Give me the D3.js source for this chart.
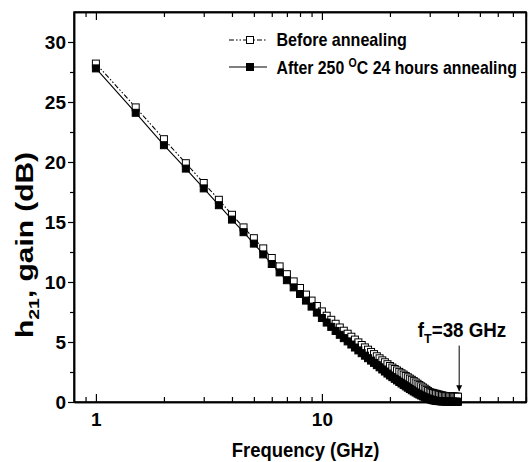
<!DOCTYPE html>
<html><head><meta charset="utf-8">
<script src="https://cdn.jsdelivr.net/npm/d3@7"></script>
<style>
html,body{margin:0;padding:0;background:#fff;}
svg{display:block;}
text{font-family:"Liberation Sans",Arial,sans-serif;font-weight:bold;fill:#000;}
</style></head>
<body>
<script>
// ---- data ----
const freqGHz = [1,1.5,2,2.5,3,3.5,4,4.5,5,5.5,6,6.5,7,7.5,8,8.5,9,9.5,10,
  10.5,11,11.5,12,12.5,13,13.5,14,14.5,15,15.5,16,16.5,17,17.5,18,18.5,19,19.5,20,
  20.5,21,21.5,22,22.5,23,23.5,24,24.5,25,25.5,26,26.5,27,27.5,28,28.5,29,29.5,30,
  30.5,31,31.5,32,32.5,33,33.5,34,34.5,35,35.5,36,36.5,37,37.5,38,38.5,39,39.5,40];
const gainBefore = [28.2,24.55,21.9,19.9,18.25,16.85,15.6,14.55,13.65,12.8,12.0,11.3,10.65,10.05,9.5,8.95,8.45,8.0,7.55,
  7.19,6.85,6.52,6.21,5.94,5.69,5.44,5.20,4.97,4.75,4.55,4.36,4.17,3.99,3.81,3.64,3.47,3.31,3.15,3.00,
  2.87,2.75,2.63,2.51,2.39,2.28,2.17,2.06,1.95,1.85,1.74,1.63,1.52,1.41,1.31,1.21,1.11,1.01,0.91,0.82,
  0.78,0.75,0.71,0.68,0.65,0.61,0.58,0.55,0.52,0.49,0.48,0.48,0.47,0.47,0.46,0.46,0.45,0.45,0.44,0.44];
const gainAfter = [27.8,24.1,21.4,19.45,17.8,16.4,15.2,14.15,13.2,12.3,11.5,10.8,10.15,9.55,9.0,8.45,7.95,7.45,7.0,
  6.62,6.26,5.92,5.60,5.32,5.05,4.79,4.54,4.30,4.07,3.86,3.65,3.45,3.26,3.07,2.89,2.71,2.54,2.37,2.21,
  2.07,1.93,1.80,1.67,1.54,1.42,1.30,1.19,1.08,0.98,0.88,0.79,0.70,0.62,0.54,0.47,0.40,0.34,0.28,0.23,
  0.19,0.15,0.12,0.10,0.08,0.07,0.06,0.05,0.05,0.04,0.04,0.04,0.03,0.03,0.03,0.03,0.02,0.02,0.02,0.02];
const seriesNames = ["Before annealing", "After 250 ", "C 24 hours annealing"];
const yMajorTicks = [0,5,10,15,20,25,30];
const yMinorTicks = [2.5,7.5,12.5,17.5,22.5,27.5];
const xMajorTicks = [1,10];
const xMinorTicks = [0.9,2,3,4,5,6,7,8,9,20,30,40,50,60,70,80];
const xLabel = "Frequency (GHz)";
const annotation = {f: 40.5, text: "=38 GHz"};

// ---- layout ----
const W = 528, H = 462;
const m = {left:74, top:12, right:526, bottom:402};
const svg = d3.select("body").append("svg").attr("width",W).attr("height",H);

const x = d3.scaleLog().domain([0.8,80]).range([m.left,m.right]);
const y = d3.scaleLinear().domain([0,32.5]).range([m.bottom,m.top]);

function styleAxis(g, lw){
  g.selectAll("path.domain").attr("stroke","#000").attr("stroke-width",lw);
  g.selectAll(".tick line").attr("stroke","#000").attr("stroke-width",1.2);
}

// left axis
const gl = svg.append("g").attr("transform",`translate(${m.left},0)`)
  .call(d3.axisLeft(y).tickValues(yMajorTicks).tickSize(6).tickSizeOuter(0).tickPadding(2).tickFormat(d3.format("d")));
styleAxis(gl,1.5);
gl.selectAll(".tick text").attr("font-size",19).attr("font-family",null).attr("dy","0.36em");
const glm = svg.append("g").attr("transform",`translate(${m.left},0)`)
  .call(d3.axisLeft(y).tickValues(yMinorTicks).tickSize(4).tickSizeOuter(0).tickFormat(""));
styleAxis(glm,1.5);
// right axis (inward)
const gr = svg.append("g").attr("transform",`translate(${m.right},0)`)
  .call(d3.axisRight(y).tickValues(yMajorTicks.concat(yMinorTicks)).tickSize(-5).tickSizeOuter(0).tickFormat(""));
styleAxis(gr,1.5);
// bottom axis (inward)
const gb = svg.append("g").attr("transform",`translate(0,${m.bottom})`)
  .call(d3.axisBottom(x).tickValues(xMajorTicks).tickSize(-8).tickSizeOuter(0).tickPadding(11).tickFormat(d3.format("d")));
styleAxis(gb,1.5);
gb.selectAll(".tick text").attr("font-size",19).attr("font-family",null);
const gbm = svg.append("g").attr("transform",`translate(0,${m.bottom})`)
  .call(d3.axisBottom(x).tickValues(xMinorTicks).tickSize(-5).tickSizeOuter(0).tickFormat(""));
styleAxis(gbm,1.5);
// top axis (inward)
const gt = svg.append("g").attr("transform",`translate(0,${m.top})`)
  .call(d3.axisTop(x).tickValues(xMajorTicks).tickSize(-8).tickSizeOuter(0).tickFormat(""));
styleAxis(gt,1.5);
const gtm = svg.append("g").attr("transform",`translate(0,${m.top})`)
  .call(d3.axisTop(x).tickValues(xMinorTicks).tickSize(-5).tickSizeOuter(0).tickFormat(""));
styleAxis(gtm,1.5);
// frame
svg.append("rect").attr("x",m.left).attr("y",m.top).attr("width",m.right-m.left).attr("height",m.bottom-m.top)
  .attr("fill","none").attr("stroke","#000").attr("stroke-width",1.5);

// ---- series ----
const dataB = freqGHz.map((f,i)=>({f, v:gainBefore[i]}));
const dataA = freqGHz.map((f,i)=>({f, v:gainAfter[i]}));
const line = d3.line().x(d=>x(d.f)).y(d=>y(d.v));
const MS = 7;
const DASH = "5,2,1.5,2,1.5,2";

svg.append("path").datum(dataB).attr("d",line).attr("fill","none").attr("stroke","#000")
  .attr("stroke-width",1.1).attr("stroke-dasharray",DASH);
svg.append("g").selectAll("rect").data(dataB).join("rect")
  .attr("x",d=>x(d.f)-MS/2).attr("y",d=>y(d.v)-MS/2).attr("width",MS).attr("height",MS)
  .attr("fill","#fff").attr("stroke","#000").attr("stroke-width",1);
svg.append("path").datum(dataA).attr("d",line).attr("fill","none").attr("stroke","#000").attr("stroke-width",1.1);
svg.append("g").selectAll("rect").data(dataA).join("rect")
  .attr("x",d=>x(d.f)-MS/2).attr("y",d=>y(d.v)-MS/2).attr("width",MS).attr("height",MS)
  .attr("fill","#000").attr("stroke","#000").attr("stroke-width",1);

function fitText(g, target){
  const bb = g.select("text").node().getBBox();
  return target / bb.width;
}

// ---- legend ----
const lg = svg.append("g");
const legRows = [{y:40, dash:DASH, fill:"#fff"},{y:67, dash:null, fill:"#000"}];
legRows.forEach(r=>{
  lg.append("line").attr("x1",229).attr("x2",267).attr("y1",r.y).attr("y2",r.y)
    .attr("stroke","#000").attr("stroke-width",1.1).attr("stroke-dasharray",r.dash);
  lg.append("rect").attr("x",250-MS/2).attr("y",r.y-MS/2).attr("width",MS).attr("height",MS)
    .attr("fill",r.fill).attr("stroke","#000");
});
const t1g = lg.append("g");
t1g.append("text").attr("font-size",18).text(seriesNames[0]);
t1g.attr("transform",`translate(276.5,46) scale(${fitText(t1g,130.5)},1)`);
const t2g = lg.append("g");
const t2 = t2g.append("text").attr("font-size",18);
t2.append("tspan").text(seriesNames[1]);
t2.append("tspan").attr("font-size",12).attr("dy",-7).text("O");
t2.append("tspan").attr("dy",7).text(seriesNames[2]);
t2g.attr("transform",`translate(276.5,73.5) scale(${fitText(t2g,240.5)},1)`);

// ---- axis labels ----
const xl = svg.append("g");
xl.append("text").attr("font-size",20.5).attr("text-anchor","middle").text(xLabel);
xl.attr("transform",`translate(305.5,456.5) scale(${fitText(xl,147.6)},1)`);

const yl = svg.append("g");
const ylt = yl.append("text").attr("font-size",23).attr("text-anchor","middle");
ylt.append("tspan").text("h");
ylt.append("tspan").attr("font-size",15).attr("dy",6).text("21");
ylt.append("tspan").attr("dy",-6).text(", gain (dB)");
yl.attr("transform",`translate(33,245) rotate(-90) scale(${fitText(yl,186)},1)`);

// ---- annotation ----
const ag = svg.append("g");
const at = ag.append("text").attr("font-size",19.5).attr("text-anchor","middle");
at.append("tspan").text("f");
at.append("tspan").attr("font-size",13).attr("dy",6).text("T");
at.append("tspan").attr("dy",-6).text(annotation.text);
ag.attr("transform",`translate(462,337) scale(${fitText(ag,88.7)},1)`);
svg.append("defs").append("marker").attr("id","ah").attr("viewBox","0 0 10 10")
  .attr("refX",10).attr("refY",5).attr("markerWidth",6).attr("markerHeight",8).attr("orient","auto")
  .attr("markerUnits","userSpaceOnUse")
  .append("path").attr("d","M0,0 L10,5 L0,10 Z").attr("fill","#000");
svg.append("line").attr("x1",x(annotation.f)).attr("x2",x(annotation.f))
  .attr("y1",y(4.7)).attr("y2",y(0.9)).attr("stroke","#000").attr("stroke-width",1)
  .attr("marker-end","url(#ah)");
</script>
</body></html>
